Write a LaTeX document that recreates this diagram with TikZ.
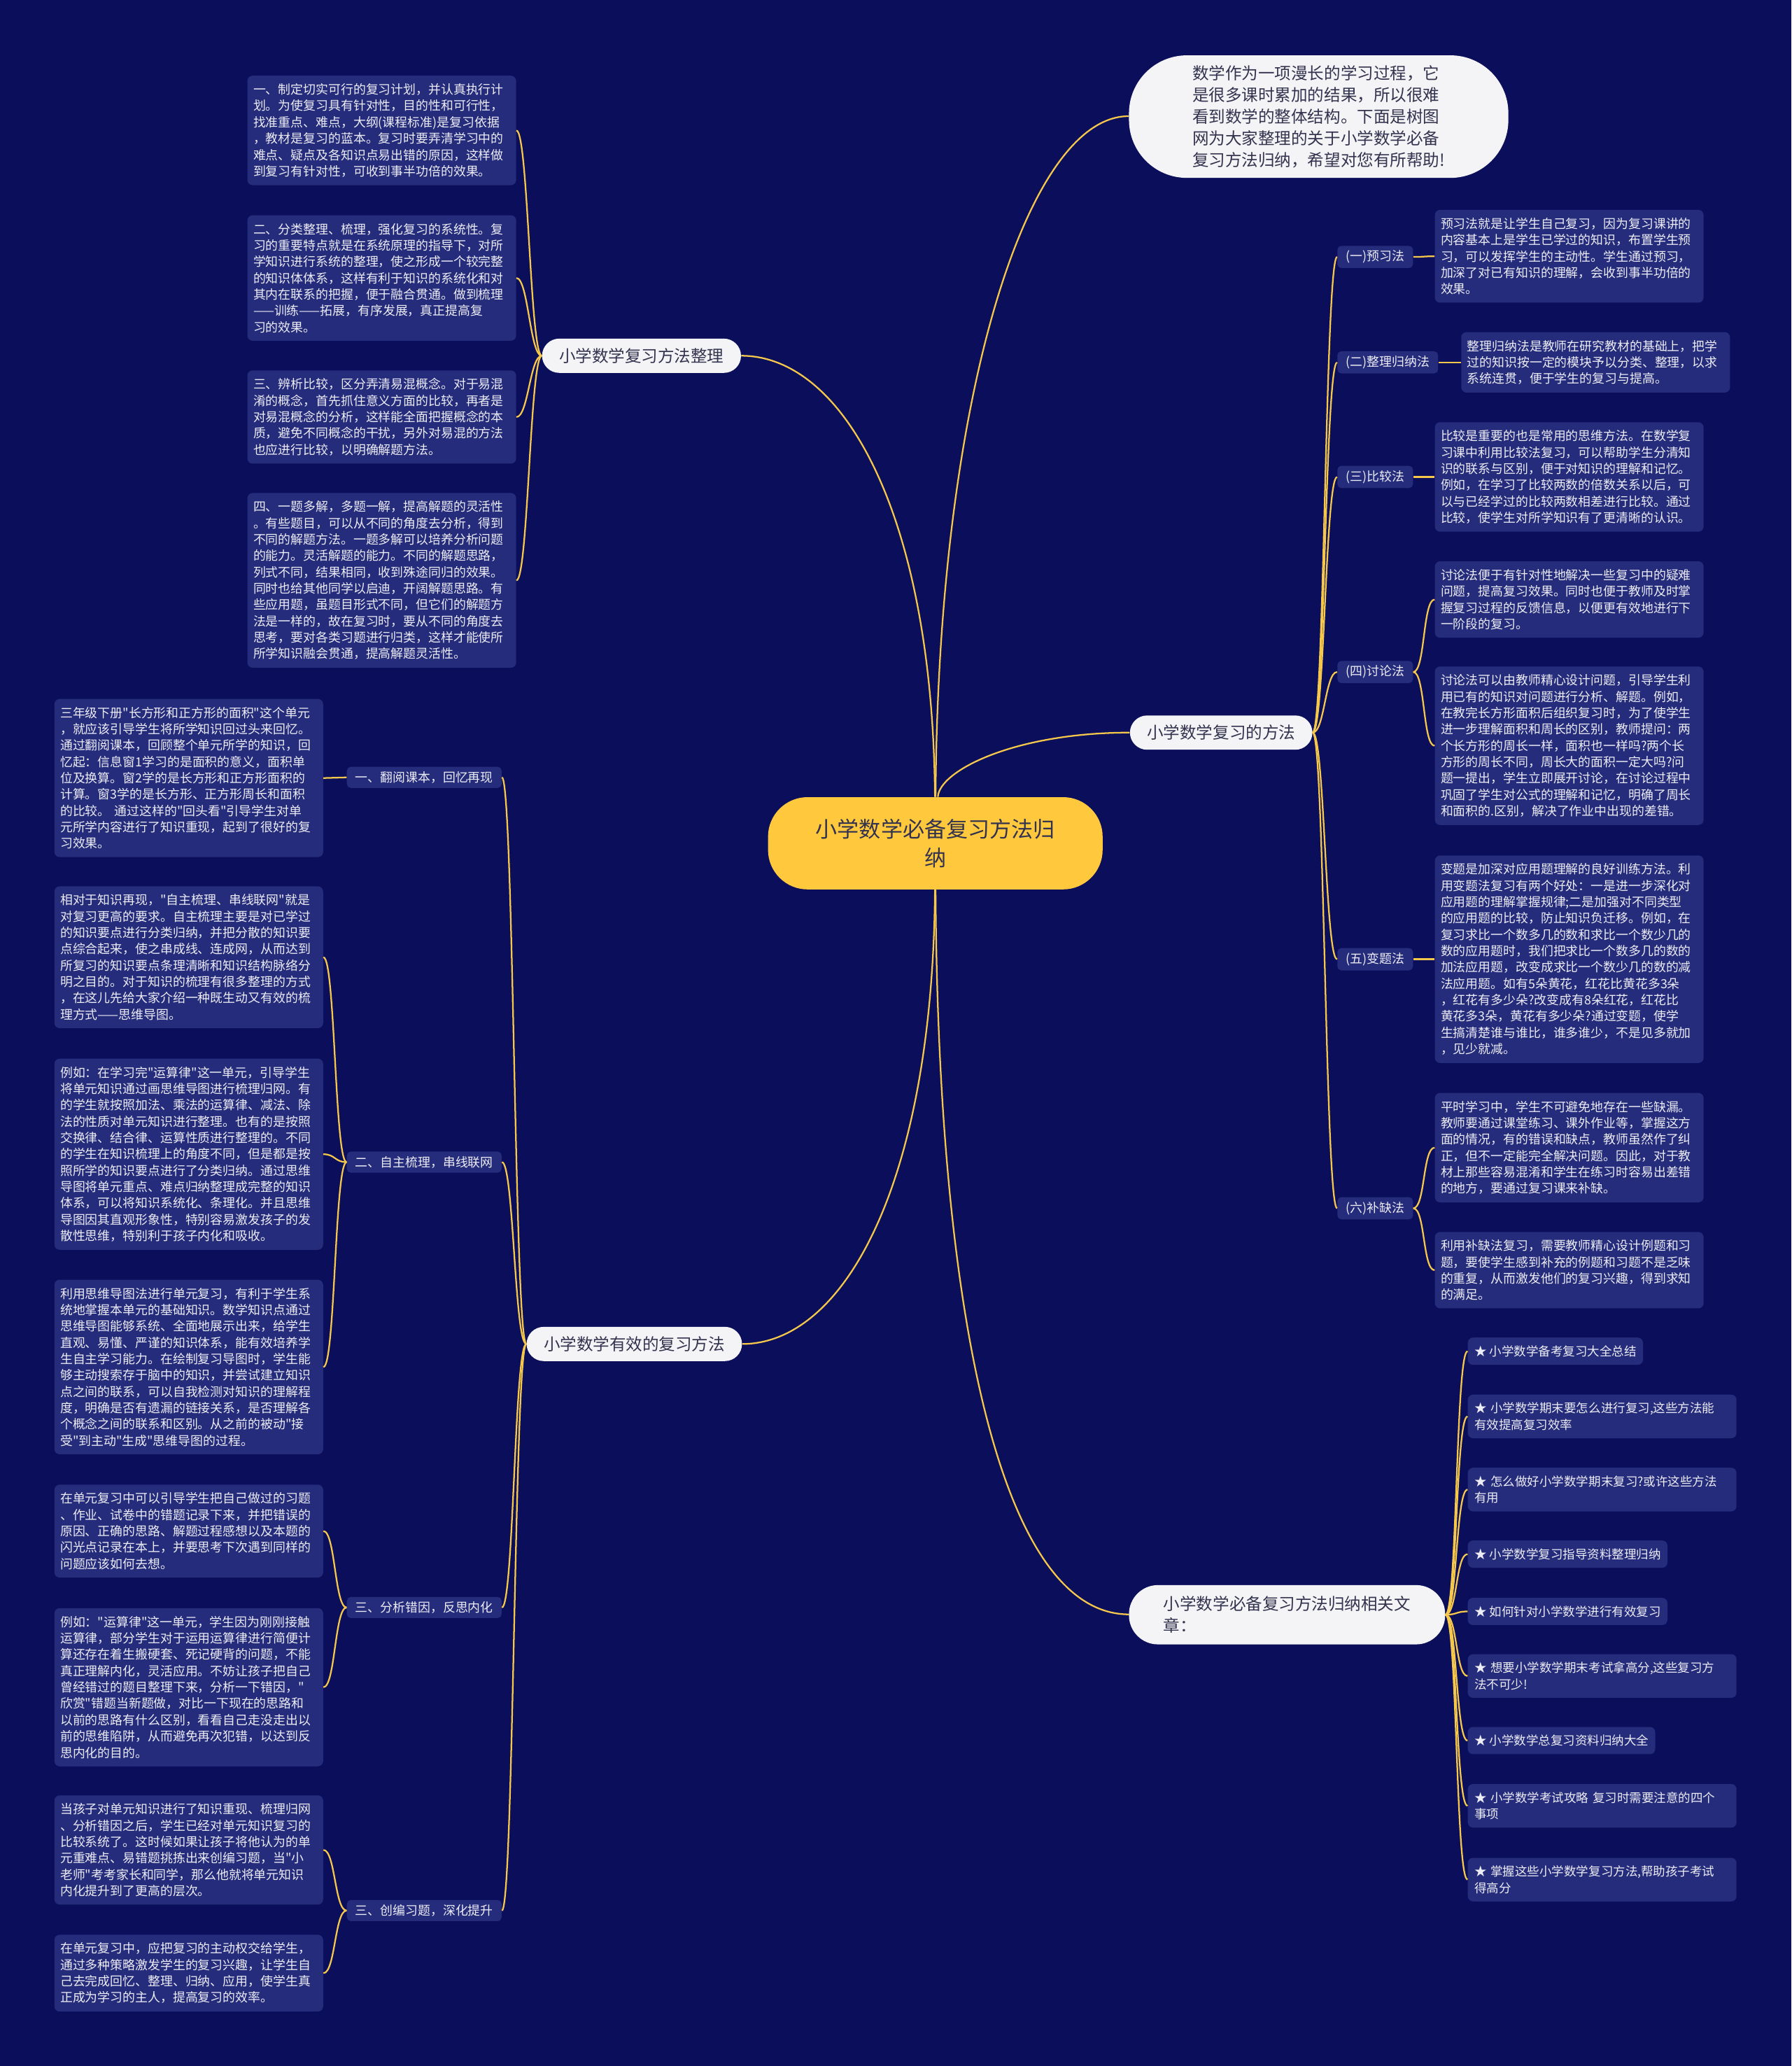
\documentclass[tikz,border=0pt]{standalone}
\usepackage{fontspec}
\usepackage{tikz}
\newfontfamily\cjkfont{Noto Sans CJK SC}
\definecolor{mmNavy}{HTML}{0B0F5B}
\definecolor{mmPanel}{HTML}{252C7C}
\definecolor{mmGold}{HTML}{F5C84C}
\definecolor{mmHubFill}{HTML}{FFC83D}
\definecolor{mmInk}{HTML}{33334F}
\definecolor{mmPaper}{HTML}{F4F4F6}
\definecolor{mmText}{HTML}{EDEDF5}
\tikzset{
    mmBoxBase/.style={
        rectangle,
        rounded corners=4pt,
        inner xsep=4.5pt,
        inner ysep=6pt,
        align=left,
        fill=mmPanel,
        text=mmText,
        font=\cjkfont\fontsize{9.5}{12.4}\selectfont
    },
    % Semantic Variants
    mmNote/.style={mmBoxBase, text width=195pt},
    mmLink/.style={mmBoxBase, inner xsep=5pt, font=\cjkfont\fontsize{9.3}{12.4}\selectfont},
    mmLinkWide/.style={mmLink, text width=194pt},
    mmTag/.style={mmBoxBase, rounded corners=3pt, inner xsep=6.5pt, inner ysep=3.5pt, font=\cjkfont\fontsize{9.5}{11}\selectfont},
    mmTopic/.style={
        rectangle,
        rounded corners=13pt,
        fill=mmPaper,
        text=mmInk,
        minimum height=26pt,
        inner xsep=13pt,
        align=left,
        font=\cjkfont\fontsize{12.5}{16.5}\selectfont
    },
    mmHub/.style={
        rectangle,
        rounded corners=30pt,
        fill=mmHubFill,
        text=mmInk,
        minimum width=254pt,
        minimum height=70pt,
        align=center,
        font=\cjkfont\fontsize{16.5}{22}\selectfont
    },
    % Connectors
    mmLine/.style={draw=mmGold, line width=1.2pt},
    mmBraceL/.style={out=180, in=0, out distance=9pt, in distance=9pt},
    mmBraceR/.style={out=0, in=180, out distance=9pt, in distance=9pt}
}

\begin{document}
\begin{tikzpicture}[x=1pt, y=-1pt]
    \useasboundingbox (0,0) rectangle (1360,1568);
    \fill[mmNavy] (0,0) rectangle (1360,1568);

    % centre and main branches
    \node[mmHub] (hub) at (710,640) {小学数学必备复习方法归\\纳};
    \node[mmTopic, minimum width=288pt, minimum height=93pt, rounded corners=44pt] (intro) at (1001,88.5) {数学作为一项漫长的学习过程，它\\是很多课时累加的结果，所以很难\\看到数学的整体结构。下面是树图\\网为大家整理的关于小学数学必备\\复习方法归纳，希望对您有所帮助!};
    \node[mmTopic] (topicSort) at (487,270) {小学数学复习方法整理};
    \node[mmTopic] (topicEffective) at (481.5,1020) {小学数学有效的复习方法};
    \node[mmTopic] (topicMethods) at (927,556) {小学数学复习的方法};
    \node[mmTopic, minimum width=240pt, minimum height=45pt, rounded corners=22pt] (topicLinks) at (977,1225.5) {小学数学必备复习方法归纳相关文\\章：};

    % 小学数学复习方法整理
    \node[mmNote, anchor=east] (sortOne) at (392,99) {一、制定切实可行的复习计划，并认真执行计\\划。为使复习具有针对性，目的性和可行性，\\找准重点、难点，大纲(课程标准)是复习依据\\，教材是复习的蓝本。复习时要弄清学习中的\\难点、疑点及各知识点易出错的原因，这样做\\到复习有针对性，可收到事半功倍的效果。};
    \node[mmNote, anchor=east] (sortTwo) at (392,211) {二、分类整理、梳理，强化复习的系统性。复\\习的重要特点就是在系统原理的指导下，对所\\学知识进行系统的整理，使之形成一个较完整\\的知识体体系，这样有利于知识的系统化和对\\其内在联系的把握，便于融合贯通。做到梳理\\——训练——拓展，有序发展，真正提高复\\习的效果。};
    \node[mmNote, anchor=east] (sortThree) at (392,316.5) {三、辨析比较，区分弄清易混概念。对于易混\\淆的概念，首先抓住意义方面的比较，再者是\\对易混概念的分析，这样能全面把握概念的本\\质，避免不同概念的干扰，另外对易混的方法\\也应进行比较，以明确解题方法。};
    \node[mmNote, anchor=east] (sortFour) at (392,440.5) {四、一题多解，多题一解，提高解题的灵活性\\。有些题目，可以从不同的角度去分析，得到\\不同的解题方法。一题多解可以培养分析问题\\的能力。灵活解题的能力。不同的解题思路，\\列式不同，结果相同，收到殊途同归的效果。\\同时也给其他同学以启迪，开阔解题思路。有\\些应用题，虽题目形式不同，但它们的解题方\\法是一样的，故在复习时，要从不同的角度去\\思考，要对各类习题进行归类，这样才能使所\\所学知识融会贯通，提高解题灵活性。};

    % 小学数学有效的复习方法
    \node[mmTag, anchor=east] (tagRead) at (381,590) {一、翻阅课本，回忆再现};
    \node[mmTag, anchor=east] (tagWeave) at (381,882) {二、自主梳理，串线联网};
    \node[mmTag, anchor=east] (tagError) at (381,1220) {三、分析错因，反思内化};
    \node[mmTag, anchor=east] (tagCreate) at (381,1450) {三、创编习题，深化提升};

    \node[mmNote, anchor=east] (readOne) at (245.5,590.5) {三年级下册"长方形和正方形的面积"这个单元\\，就应该引导学生将所学知识回过头来回忆。\\通过翻阅课本，回顾整个单元所学的知识，回\\忆起：信息窗1学习的是面积的意义，面积单\\位及换算。窗2学的是长方形和正方形面积的\\计算。窗3学的是长方形、正方形周长和面积\\的比较。 通过这样的"回头看"引导学生对单\\元所学内容进行了知识重现，起到了很好的复\\习效果。};
    \node[mmNote, anchor=east] (weaveOne) at (245.5,726.5) {相对于知识再现，"自主梳理、串线联网"就是\\对复习更高的要求。自主梳理主要是对已学过\\的知识要点进行分类归纳，并把分散的知识要\\点综合起来，使之串成线、连成网，从而达到\\所复习的知识要点条理清晰和知识结构脉络分\\明之目的。对于知识的梳理有很多整理的方式\\，在这儿先给大家介绍一种既生动又有效的梳\\理方式——思维导图。};
    \node[mmNote, anchor=east] (weaveTwo) at (245.5,876) {例如：在学习完"运算律"这一单元，引导学生\\将单元知识通过画思维导图进行梳理归网。有\\的学生就按照加法、乘法的运算律、减法、除\\法的性质对单元知识进行整理。也有的是按照\\交换律、结合律、运算性质进行整理的。不同\\的学生在知识梳理上的角度不同，但是都是按\\照所学的知识要点进行了分类归纳。通过思维\\导图将单元重点、难点归纳整理成完整的知识\\体系，可以将知识系统化、条理化。并且思维\\导图因其直观形象性，特别容易激发孩子的发\\散性思维，特别利于孩子内化和吸收。};
    \node[mmNote, anchor=east] (weaveThree) at (245.5,1037.5) {利用思维导图法进行单元复习，有利于学生系\\统地掌握本单元的基础知识。数学知识点通过\\思维导图能够系统、全面地展示出来，给学生\\直观、易懂、严谨的知识体系，能有效培养学\\生自主学习能力。在绘制复习导图时，学生能\\够主动搜索存于脑中的知识，并尝试建立知识\\点之间的联系，可以自我检测对知识的理解程\\度，明确是否有遗漏的链接关系，是否理解各\\个概念之间的联系和区别。从之前的被动"接\\受"到主动"生成"思维导图的过程。};
    \node[mmNote, anchor=east] (errorOne) at (245.5,1162) {在单元复习中可以引导学生把自己做过的习题\\、作业、试卷中的错题记录下来，并把错误的\\原因、正确的思路、解题过程感想以及本题的\\闪光点记录在本上，并要思考下次遇到同样的\\问题应该如何去想。};
    \node[mmNote, anchor=east] (errorTwo) at (245.5,1280.5) {例如："运算律"这一单元，学生因为刚刚接触\\运算律，部分学生对于运用运算律进行简便计\\算还存在着生搬硬套、死记硬背的问题，不能\\真正理解内化，灵活应用。不妨让孩子把自己\\曾经错过的题目整理下来，分析一下错因，"\\欣赏"错题当新题做，对比一下现在的思路和\\以前的思路有什么区别，看看自己走没走出以\\前的思维陷阱，从而避免再次犯错，以达到反\\思内化的目的。};
    \node[mmNote, anchor=east] (createOne) at (245.5,1404) {当孩子对单元知识进行了知识重现、梳理归网\\、分析错因之后，学生已经对单元知识复习的\\比较系统了。这时候如果让孩子将他认为的单\\元重难点、易错题挑拣出来创编习题，当"小\\老师"考考家长和同学，那么他就将单元知识\\内化提升到了更高的层次。};
    \node[mmNote, anchor=east] (createTwo) at (245.5,1497.5) {在单元复习中，应把复习的主动权交给学生，\\通过多种策略激发学生的复习兴趣，让学生自\\己去完成回忆、整理、归纳、应用，使学生真\\正成为学习的主人，提高复习的效率。};

    % 小学数学复习的方法
    \node[mmTag, anchor=west] (methPreview) at (1015,195) {(一)预习法};
    \node[mmTag, anchor=west] (methInduce) at (1015,275) {(二)整理归纳法};
    \node[mmTag, anchor=west] (methCompare) at (1015,362) {(三)比较法};
    \node[mmTag, anchor=west] (methDiscuss) at (1015,510) {(四)讨论法};
    \node[mmTag, anchor=west] (methVary) at (1015,728) {(五)变题法};
    \node[mmTag, anchor=west] (methFill) at (1015,917) {(六)补缺法};

    \node[mmNote, anchor=west] (previewNote) at (1089,194.5) {预习法就是让学生自己复习，因为复习课讲的\\内容基本上是学生已学过的知识，布置学生预\\习，可以发挥学生的主动性。学生通过预习，\\加深了对已有知识的理解，会收到事半功倍的\\效果。};
    \node[mmNote, anchor=west] (induceNote) at (1109,275) {整理归纳法是教师在研究教材的基础上，把学\\过的知识按一定的模块予以分类、整理，以求\\系统连贯，便于学生的复习与提高。};
    \node[mmNote, anchor=west] (compareNote) at (1089,362) {比较是重要的也是常用的思维方法。在数学复\\习课中利用比较法复习，可以帮助学生分清知\\识的联系与区别，便于对知识的理解和记忆。\\例如，在学习了比较两数的倍数关系以后，可\\以与已经学过的比较两数相差进行比较。通过\\比较，使学生对所学知识有了更清晰的认识。};
    \node[mmNote, anchor=west] (discussOne) at (1089,455) {讨论法便于有针对性地解决一些复习中的疑难\\问题，提高复习效果。同时也便于教师及时掌\\握复习过程的反馈信息，以便更有效地进行下\\一阶段的复习。};
    \node[mmNote, anchor=west] (discussTwo) at (1089,566) {讨论法可以由教师精心设计问题，引导学生利\\用已有的知识对问题进行分析、解题。例如，\\在教完长方形面积后组织复习时，为了使学生\\进一步理解面积和周长的区别，教师提问：两\\个长方形的周长一样，面积也一样吗?两个长\\方形的周长不同，周长大的面积一定大吗?问\\题一提出，学生立即展开讨论，在讨论过程中\\巩固了学生对公式的理解和记忆，明确了周长\\和面积的.区别，解决了作业中出现的差错。};
    \node[mmNote, anchor=west] (varyNote) at (1089,728) {变题是加深对应用题理解的良好训练方法。利\\用变题法复习有两个好处：一是进一步深化对\\应用题的理解掌握规律;二是加强对不同类型\\的应用题的比较，防止知识负迁移。例如，在\\复习求比一个数多几的数和求比一个数少几的\\数的应用题时，我们把求比一个数多几的数的\\加法应用题，改变成求比一个数少几的数的减\\法应用题。如有5朵黄花，红花比黄花多3朵\\，红花有多少朵?改变成有8朵红花，红花比\\黄花多3朵，黄花有多少朵?通过变题，使学\\生搞清楚谁与谁比，谁多谁少，不是见多就加\\，见少就减。};
    \node[mmNote, anchor=west] (fillOne) at (1089,871) {平时学习中，学生不可避免地存在一些缺漏。\\教师要通过课堂练习、课外作业等，掌握这方\\面的情况，有的错误和缺点，教师虽然作了纠\\正，但不一定能完全解决问题。因此，对于教\\材上那些容易混淆和学生在练习时容易出差错\\的地方，要通过复习课来补缺。};
    \node[mmNote, anchor=west] (fillTwo) at (1089,964) {利用补缺法复习，需要教师精心设计例题和习\\题，要使学生感到补充的例题和习题不是乏味\\的重复，从而激发他们的复习兴趣，得到求知\\的满足。};

    % 相关文章
    \node[mmLink, anchor=west] (linkOne) at (1114,1025.5) {★ 小学数学备考复习大全总结};
    \node[mmLinkWide, anchor=west] (linkTwo) at (1114,1075) {★ 小学数学期末要怎么进行复习,这些方法能\\有效提高复习效率};
    \node[mmLinkWide, anchor=west] (linkThree) at (1114,1130.5) {★ 怎么做好小学数学期末复习?或许这些方法\\有用};
    \node[mmLink, anchor=west] (linkFour) at (1114,1179.5) {★ 小学数学复习指导资料整理归纳};
    \node[mmLink, anchor=west] (linkFive) at (1114,1223) {★ 如何针对小学数学进行有效复习};
    \node[mmLinkWide, anchor=west] (linkSix) at (1114,1272) {★ 想要小学数学期末考试拿高分,这些复习方\\法不可少!};
    \node[mmLink, anchor=west] (linkSeven) at (1114,1321) {★ 小学数学总复习资料归纳大全};
    \node[mmLinkWide, anchor=west] (linkEight) at (1114,1370.5) {★ 小学数学考试攻略 复习时需要注意的四个\\事项};
    \node[mmLinkWide, anchor=west] (linkNine) at (1114,1426.5) {★ 掌握这些小学数学复习方法,帮助孩子考试\\得高分};

    % hub to branches
    \draw[mmLine] (hub) .. controls (708,390) and (640,270) .. (topicSort);
    \draw[mmLine] (hub) .. controls (708,900) and (640,1020) .. (topicEffective);
    \draw[mmLine] (hub) .. controls (712,300) and (780,88) .. (intro);
    \draw[mmLine] (hub) .. controls (713,585) and (770,556) .. (topicMethods);
    \draw[mmLine] (hub) .. controls (712,1000) and (760,1225) .. (topicLinks);

    % left branches
    \draw[mmLine] (topicSort.west) to[mmBraceL] (sortOne.east);
    \draw[mmLine] (topicSort.west) to[mmBraceL] (sortTwo.east);
    \draw[mmLine] (topicSort.west) to[mmBraceL] (sortThree.east);
    \draw[mmLine] (topicSort.west) to[mmBraceL] (sortFour.east);

    \draw[mmLine] (topicEffective.west) to[mmBraceL] (tagRead.east);
    \draw[mmLine] (topicEffective.west) to[mmBraceL] (tagWeave.east);
    \draw[mmLine] (topicEffective.west) to[mmBraceL] (tagError.east);
    \draw[mmLine] (topicEffective.west) to[mmBraceL] (tagCreate.east);

    \draw[mmLine] (tagRead.west) to[mmBraceL] (readOne.east);
    \draw[mmLine] (tagWeave.west) to[mmBraceL] (weaveOne.east);
    \draw[mmLine] (tagWeave.west) to[mmBraceL] (weaveTwo.east);
    \draw[mmLine] (tagWeave.west) to[mmBraceL] (weaveThree.east);
    \draw[mmLine] (tagError.west) to[mmBraceL] (errorOne.east);
    \draw[mmLine] (tagError.west) to[mmBraceL] (errorTwo.east);
    \draw[mmLine] (tagCreate.west) to[mmBraceL] (createOne.east);
    \draw[mmLine] (tagCreate.west) to[mmBraceL] (createTwo.east);

    % right branches
    \draw[mmLine] (topicMethods.east) to[mmBraceR] (methPreview.west);
    \draw[mmLine] (topicMethods.east) to[mmBraceR] (methInduce.west);
    \draw[mmLine] (topicMethods.east) to[mmBraceR] (methCompare.west);
    \draw[mmLine] (topicMethods.east) to[mmBraceR] (methDiscuss.west);
    \draw[mmLine] (topicMethods.east) to[mmBraceR] (methVary.west);
    \draw[mmLine] (topicMethods.east) to[mmBraceR] (methFill.west);

    \draw[mmLine] (methPreview.east) to[mmBraceR] (previewNote.west);
    \draw[mmLine] (methInduce.east) to[mmBraceR] (induceNote.west);
    \draw[mmLine] (methCompare.east) to[mmBraceR] (compareNote.west);
    \draw[mmLine] (methDiscuss.east) to[mmBraceR] (discussOne.west);
    \draw[mmLine] (methDiscuss.east) to[mmBraceR] (discussTwo.west);
    \draw[mmLine] (methVary.east) to[mmBraceR] (varyNote.west);
    \draw[mmLine] (methFill.east) to[mmBraceR] (fillOne.west);
    \draw[mmLine] (methFill.east) to[mmBraceR] (fillTwo.west);

    \draw[mmLine] (topicLinks.east) to[mmBraceR] (linkOne.west);
    \draw[mmLine] (topicLinks.east) to[mmBraceR] (linkTwo.west);
    \draw[mmLine] (topicLinks.east) to[mmBraceR] (linkThree.west);
    \draw[mmLine] (topicLinks.east) to[mmBraceR] (linkFour.west);
    \draw[mmLine] (topicLinks.east) to[mmBraceR] (linkFive.west);
    \draw[mmLine] (topicLinks.east) to[mmBraceR] (linkSix.west);
    \draw[mmLine] (topicLinks.east) to[mmBraceR] (linkSeven.west);
    \draw[mmLine] (topicLinks.east) to[mmBraceR] (linkEight.west);
    \draw[mmLine] (topicLinks.east) to[mmBraceR] (linkNine.west);
\end{tikzpicture}
\end{document}
